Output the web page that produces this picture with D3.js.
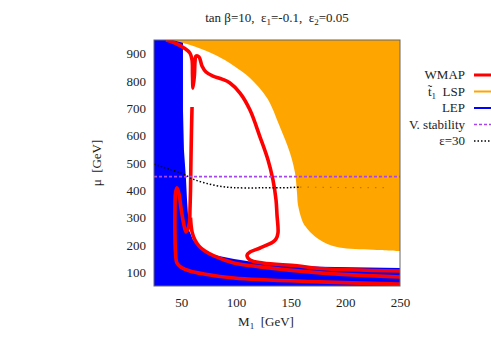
<!DOCTYPE html>
<html lang="en">
  <head>
    <meta charset="UTF-8" />
    <title>tan beta=10 WMAP plane</title>
    <style>
      body {
        margin: 0;
        background: #fff;
      }
      text {
        font-family: "Liberation Serif", "DejaVu Serif", serif;
        fill: #222;
        white-space: pre;
      }
    </style>
  </head>
  <body>
    <div id="chart"></div>

    <script src="https://cdn.jsdelivr.net/npm/d3@7"></script>

    <script>
      ///////////////////////////////////////////////////////////////////////////
      /////////////////////////////// Data ///////////////////////////////////////
      ///////////////////////////////////////////////////////////////////////////

      // all points are [M1 (GeV), mu (GeV)]
      var xTicks = [50, 100, 150, 200, 250];
      var yTicks = [100, 200, 300, 400, 500, 600, 700, 800, 900];

      // LEP excluded region, upper-right boundary
      var lepEdge = [
        [51.5, 950], [51.5, 694], [52.4, 548], [54.3, 438], [55.2, 365],
        [57.0, 255], [60.7, 218], [64.3, 204], [70.7, 182], [79.9, 163],
        [98.2, 149], [122.0, 134], [176.8, 120], [250, 116]
      ];

      // stop LSP region, lower-left boundary
      var stopEdge = [
        [41.5, 950], [55.2, 935], [70.7, 913], [86.3, 884], [98.2, 855],
        [112.8, 811], [128.4, 738], [140.2, 632], [149.4, 537], [154.0, 463],
        [155.8, 390], [156.7, 346], [160.4, 291], [163.1, 270], [167.7, 248],
        [176.8, 218], [186.0, 200], [197.9, 189], [229.0, 182], [250, 178]
      ];

      // WMAP contours
      var wmapLoop = [
        [36.0, 950], [44.2, 939], [52.4, 921], [57.9, 902], [59.8, 877],
        [60.2, 822], [60.7, 774], [62.0, 822], [62.5, 870], [63.4, 891],
        [66.2, 888], [68.9, 855], [72.6, 833], [79.0, 818], [87.2, 807],
        [94.5, 793], [103.7, 756], [112.8, 694], [122.0, 595], [129.3, 511],
        [133.8, 438], [136.6, 365], [137.5, 310], [138.4, 244], [136.6, 222],
        [133.8, 211], [122.0, 189], [112.8, 174], [110.1, 163], [112.8, 145],
        [124.7, 134], [155.8, 124], [176.8, 114], [250, 105]
      ];
      var wmapSpike = [
        [59.8, 705], [59.3, 621], [58.8, 511], [58.4, 401], [57.9, 328],
        [57.5, 284], [56.1, 259], [54.3, 248], [52.4, 273], [49.7, 335],
        [47.9, 387], [46.0, 409], [44.7, 390], [44.2, 328], [44.2, 237],
        [44.7, 171], [46.0, 134], [49.7, 119], [57.9, 105], [70.7, 94],
        [98.2, 79], [176.8, 65], [250, 57]
      ];
      var wmapLow = [
        [58.4, 300], [59.8, 248], [62.5, 218], [66.2, 196], [71.6, 178],
        [79.9, 160], [98.2, 134], [122.0, 120], [176.8, 98], [250, 83]
      ];

      // vacuum stability bound
      var stabilityMu = 450;

      // epsilon = 30 contour
      var eps30 = [
        [25, 496], [33.2, 485], [41.5, 474], [51.5, 460], [60.7, 441],
        [71.6, 427], [83.5, 416], [97.3, 410], [122.0, 409], [149.4, 410],
        [158.5, 412]
      ];
      var eps30Faint = [[158.5, 412], [200, 410], [236, 410]];

      ///////////////////////////////////////////////////////////////////////////
      ///////////////////////////// Set up svg ///////////////////////////////////
      ///////////////////////////////////////////////////////////////////////////

      var width = 491,
        height = 343;
      var plot = { left: 154, right: 400, top: 40, bottom: 286 };

      var svg = d3
        .select("#chart")
        .append("svg")
        .attr("width", width)
        .attr("height", height);

      var x = d3.scaleLinear().domain([25, 250]).range([plot.left, plot.right]);
      var y = d3.scaleLinear().domain([50, 950]).range([plot.bottom, plot.top]);

      var line = d3
        .line()
        .x(function(d) { return x(d[0]); })
        .y(function(d) { return y(d[1]); });
      var smooth = d3
        .line()
        .x(function(d) { return x(d[0]); })
        .y(function(d) { return y(d[1]); })
        .curve(d3.curveCatmullRom.alpha(0.5));

      svg
        .append("defs")
        .append("clipPath")
        .attr("id", "clip")
        .append("rect")
        .attr("x", plot.left)
        .attr("y", plot.top)
        .attr("width", plot.right - plot.left)
        .attr("height", plot.bottom - plot.top);

      var g = svg.append("g").attr("clip-path", "url(#clip)");

      //Regions
      var lepPoly = [[25, 950]].concat(lepEdge, [[250, 50], [25, 50]]);
      g.append("path")
        .attr("d", line(lepPoly) + "Z")
        .style("fill", "#0000ff");

      //smooth edge, then straight to the top-right corner
      g.append("path")
        .attr("d", smooth(stopEdge) + "L" + x(250) + "," + y(950) + "Z")
        .style("fill", "#ffa500");

      //WMAP lines
      [wmapLoop, wmapSpike, wmapLow].forEach(function(c) {
        g.append("path")
          .attr("d", smooth(c))
          .style("fill", "none")
          .style("stroke", "#ff0000")
          .style("stroke-width", 3.6)
          .style("stroke-linejoin", "round");
      });

      //epsilon = 30
      g.append("path")
        .attr("d", smooth(eps30))
        .style("fill", "none")
        .style("stroke", "#000")
        .style("stroke-width", 1.5)
        .style("stroke-dasharray", "1.5,2");
      g.append("path")
        .attr("d", line(eps30Faint))
        .style("fill", "none")
        .style("stroke", "#000")
        .style("stroke-opacity", 0.25)
        .style("stroke-width", 1.2)
        .style("stroke-dasharray", "1.5,6");

      //vacuum stability
      g.append("line")
        .attr("x1", x(25))
        .attr("x2", x(250))
        .attr("y1", y(stabilityMu))
        .attr("y2", y(stabilityMu))
        .style("stroke", "#a844f0")
        .style("stroke-width", 1.6)
        .style("stroke-dasharray", "3,2");

      //Frame
      svg
        .append("rect")
        .attr("x", plot.left)
        .attr("y", plot.top)
        .attr("width", plot.right - plot.left)
        .attr("height", plot.bottom - plot.top)
        .style("fill", "none")
        .style("stroke", "#666")
        .style("stroke-width", 1);

      ///////////////////////////////////////////////////////////////////////////
      //////////////////////////////// Axes //////////////////////////////////////
      ///////////////////////////////////////////////////////////////////////////

      var xAxis = svg
        .append("g")
        .attr("transform", "translate(0," + plot.bottom + ")")
        .call(d3.axisBottom(x).tickValues(xTicks).tickSize(0).tickPadding(12));
      var yAxis = svg
        .append("g")
        .attr("transform", "translate(" + plot.left + ",0)")
        .call(d3.axisLeft(y).tickValues(yTicks).tickSize(0).tickPadding(8));
      [xAxis, yAxis].forEach(function(a) {
        a.select(".domain").remove();
        a.selectAll("text")
          .style("font-family", "'Liberation Serif', serif")
          .style("font-size", "13px")
          .style("fill", "#222");
      });

      //Title
      var title = svg
        .append("text")
        .attr("x", 277)
        .attr("y", 22)
        .attr("text-anchor", "middle")
        .style("font-size", "13px");
      title.append("tspan").text("tan \u03b2=10,  \u03b5");
      title.append("tspan").attr("dy", 3).style("font-size", "9px").text("1");
      title.append("tspan").attr("dy", -3).text("=-0.1,  \u03b5");
      title.append("tspan").attr("dy", 3).style("font-size", "9px").text("2");
      title.append("tspan").attr("dy", -3).text("=0.05");

      //Axis labels
      var xLabel = svg
        .append("text")
        .attr("x", 266)
        .attr("y", 326)
        .attr("text-anchor", "middle")
        .style("font-size", "13px");
      xLabel.append("tspan").text("M");
      xLabel.append("tspan").attr("dy", 3).style("font-size", "9px").text("1");
      xLabel.append("tspan").attr("dy", -3).text("  [GeV]");

      svg
        .append("text")
        .attr("transform", "translate(101," + (plot.top + plot.bottom) / 2 + ") rotate(-90)")
        .attr("text-anchor", "middle")
        .style("font-size", "13px")
        .text("\u03bc  [GeV]");

      ///////////////////////////////////////////////////////////////////////////
      /////////////////////////////// Legend /////////////////////////////////////
      ///////////////////////////////////////////////////////////////////////////

      var legend = [
        { label: "WMAP", color: "#ff0000", width: 3, dash: null },
        { label: "LSP", color: "#ffa500", width: 2, dash: null, stop: true },
        { label: "LEP", color: "#0000ff", width: 2, dash: null },
        { label: "V. stability", color: "#a844f0", width: 1.5, dash: "3,2" },
        { label: "\u03b5=30", color: "#000", width: 1.5, dash: "1.5,2" }
      ];

      legend.forEach(function(d, i) {
        var ly = 75 + i * 16.5;
        var t = svg
          .append("text")
          .attr("x", 465)
          .attr("y", ly + 4)
          .attr("text-anchor", "end")
          .style("font-size", "13px");
        if (d.stop) {
          t.append("tspan").text("t\u0303");
          t.append("tspan").attr("dy", 3).style("font-size", "9px").text("1");
          t.append("tspan").attr("dy", -3).text("  LSP");
        } else {
          t.text(d.label);
        }
        svg
          .append("line")
          .attr("x1", 474)
          .attr("x2", 495)
          .attr("y1", ly)
          .attr("y2", ly)
          .style("stroke", d.color)
          .style("stroke-width", d.width)
          .style("stroke-dasharray", d.dash);
      });
    </script>
  </body>
</html>
